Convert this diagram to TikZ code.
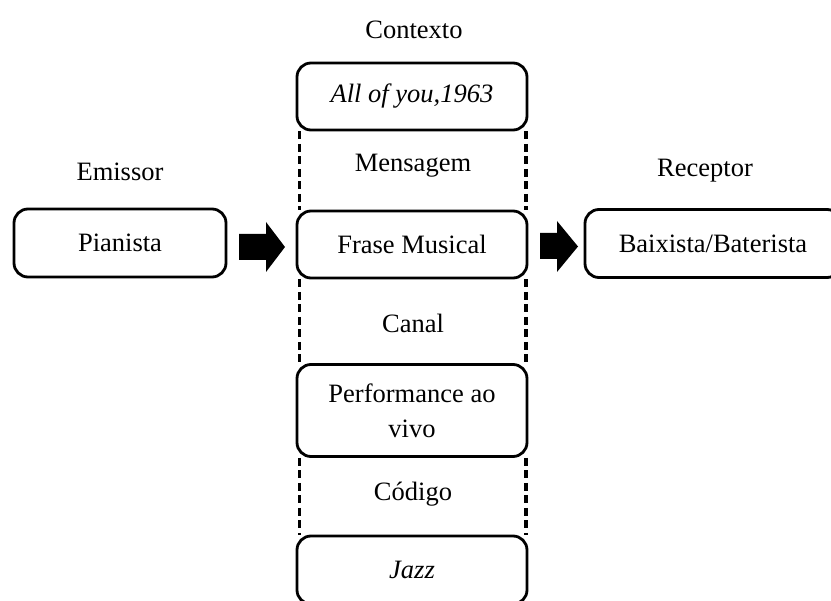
\documentclass[tikz,border=0pt]{standalone}
\usepackage{fontspec}
\setmainfont{Liberation Serif}
\begin{document}
\begin{tikzpicture}[x=1pt,y=-1pt,
  box/.style={draw, line width=2.8pt, rounded corners=14pt, align=center,
    inner sep=0pt, font=\fontsize{26.5}{35}\selectfont},
  colbox/.style={box, minimum width=230pt},
  label/.style={font=\fontsize{26.5}{32}\selectfont, inner sep=0pt},
  dashline/.style={line width=3.6pt, dash pattern=on 8pt off 4.5pt},
  blockarrow/.style={fill=black}
]
\useasboundingbox (0,0) rectangle (831,601);
\begin{scope}
\clip (0,0) rectangle (831,601);

% column of the message elements
\node[label] (contexto) at (414,30) {Contexto};
\node[colbox, minimum height=67pt] (ctx) at (412,96.5) {\itshape All of you,1963};
\node[label] (mensagem) at (413,166) {Mensagem};
\node[colbox, minimum height=67pt] (frase) at (412,244.5) {Frase Musical};
\node[label] (canal) at (413,323) {Canal};
\node[colbox, minimum height=92pt] (perf) at (412,410.5) {Performance ao\\vivo};
\node[label] (codigo) at (413,494) {Código};
\node[colbox, minimum height=68pt] (jazz) at (412,570) {\itshape Jazz};

% sender and receiver
\node[label] (emissor) at (120,172) {Emissor};
\node[box, minimum width=212pt, minimum height=68pt] (pianista) at (120,243) {Pianista};
\node[label] (receptor) at (705,171) {Receptor};
\node[box, minimum width=256pt, minimum height=68pt] (baixista) at (713,243.5) {Baixista/Baterista};

% dashed rails between the column boxes
\foreach \a/\b in {ctx/frase, frase/perf, perf/jazz}{
  \draw[dashline] ([xshift=4pt]\a.south west) -- ([xshift=4pt]\b.north west);
  \draw[dashline] ([xshift=-2.5pt]\a.south east) -- ([xshift=-2.5pt]\b.north east);
}

% block arrows
\fill[blockarrow] (239,234) -- (266,234) -- (266,222) -- (285,247)
  -- (266,272) -- (266,260) -- (239,260) -- cycle;
\fill[blockarrow] (540,233) -- (557,233) -- (557,221) -- (578,246.5)
  -- (557,272) -- (557,259) -- (540,259) -- cycle;
\end{scope}
\end{tikzpicture}
\end{document}
